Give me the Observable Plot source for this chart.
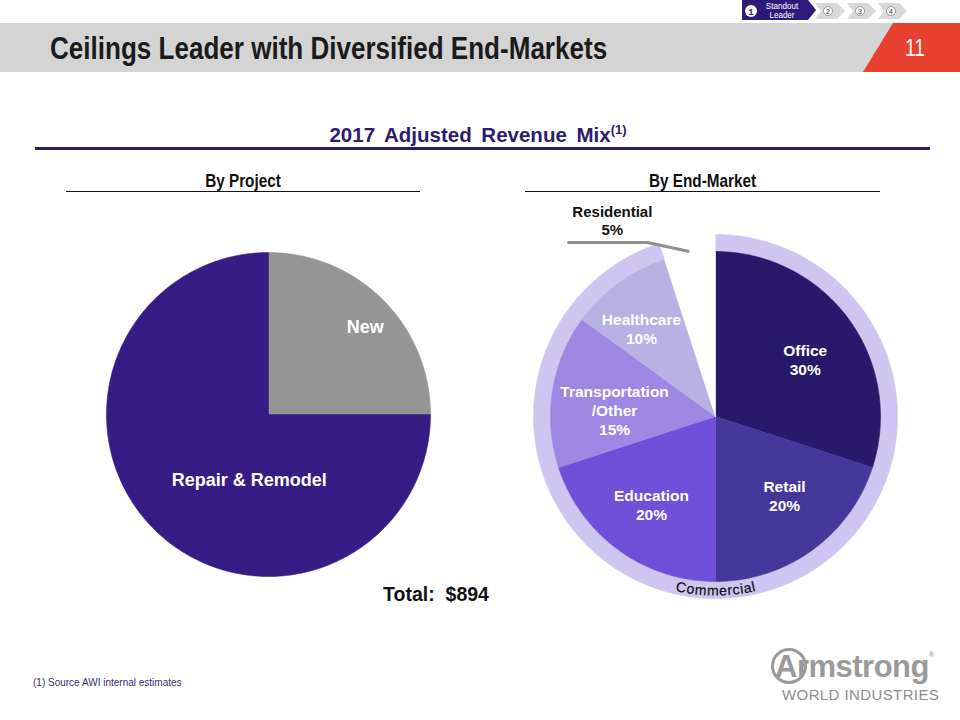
<!DOCTYPE html>
<html><head><meta charset="utf-8">
<script src="https://cdn.jsdelivr.net/npm/d3@7"></script>
<script src="https://cdn.jsdelivr.net/npm/@observablehq/plot@0.6"></script>
<style>
body{margin:0;background:#fff;font-family:"Liberation Sans",Arial,sans-serif;}
#slide{position:relative;width:960px;height:720px;overflow:hidden;background:#fff;}
#chart{position:absolute;left:0;top:0;z-index:1;}
.abs{position:absolute;white-space:nowrap;line-height:1;}
</style></head><body>
<div id="slide">
  <div class="abs" style="left:0;top:23px;width:960px;height:49px;background:#d4d4d4;"></div>
  <svg class="abs" style="left:0;top:0" width="960" height="80">
    <polygon points="893,23 960,23 960,72 863,72" fill="#e8412f"/>
    <polygon points="742,0 808,0 816,10 808,20 742,20" fill="#2e1a78"/>
    <circle cx="751" cy="11" r="6" fill="#fff"/>
    <text x="751" y="14.5" font-size="9" font-weight="bold" text-anchor="middle" fill="#2e1a78" font-family="Liberation Sans">1</text>
    <text x="782" y="8.5" font-size="9.5" text-anchor="middle" fill="#fff" font-family="Liberation Sans" transform="translate(782,0) scale(0.85,1) translate(-782,0)">Standout</text>
    <text x="782" y="18" font-size="9.5" text-anchor="middle" fill="#fff" font-family="Liberation Sans" transform="translate(782,0) scale(0.85,1) translate(-782,0)">Leader</text>
    <polygon points="815,3 837,3 845,11 837,19 815,19 821,11" fill="#d9d9d9"/>
    <polygon points="847,3 868,3 876,11 868,19 847,19 853,11" fill="#d9d9d9"/>
    <polygon points="878,3 899,3 907,11 899,19 878,19 884,11" fill="#d9d9d9"/>
    <circle cx="828" cy="11" r="4.5" fill="#fff" stroke="#666" stroke-width="0.6"/>
    <circle cx="860" cy="11" r="4.5" fill="#fff" stroke="#666" stroke-width="0.6"/>
    <circle cx="891" cy="11" r="4.5" fill="#fff" stroke="#666" stroke-width="0.6"/>
    <text x="828" y="13.5" font-size="7" text-anchor="middle" fill="#333" font-family="Liberation Sans">2</text>
    <text x="860" y="13.5" font-size="7" text-anchor="middle" fill="#333" font-family="Liberation Sans">3</text>
    <text x="891" y="13.5" font-size="7" text-anchor="middle" fill="#333" font-family="Liberation Sans">4</text>
  </svg>
  <div id="title" class="abs" style="left:50px;top:33px;font-size:31px;font-weight:bold;color:#1b1b1b;transform:scaleX(0.84);transform-origin:0 0;"></div>
  <div id="pageno" class="abs" style="left:895px;top:36px;width:40px;text-align:center;font-size:24px;color:#fff;transform:scaleX(0.8);"></div>
  <div id="subtitle" class="abs" style="left:0;top:123px;width:956px;text-align:center;font-size:20.5px;font-weight:bold;color:#2d1c6c;word-spacing:4px;"></div>
  <div class="abs" style="left:35px;top:147px;width:895px;height:3px;background:#2e1d6e;"></div>
  <div id="lefthead" class="abs" style="left:66px;top:172px;width:354px;text-align:center;font-size:18px;font-weight:bold;color:#111;transform:scaleX(0.85);"></div>
  <div class="abs" style="left:66px;top:191px;width:354px;height:1px;background:#111;"></div>
  <div id="righthead" class="abs" style="left:525px;top:172px;width:355px;text-align:center;font-size:18px;font-weight:bold;color:#111;transform:scaleX(0.85);"></div>
  <div class="abs" style="left:525px;top:191px;width:355px;height:1px;background:#111;"></div>
  <div id="total" class="abs" style="left:336px;top:585px;width:200px;text-align:center;font-size:19.5px;font-weight:bold;color:#111;white-space:pre;"></div>
  <div id="footnote" class="abs" style="left:33px;top:678px;font-size:10px;color:#3b2f6b;"></div>
  <div class="abs" style="left:771px;top:648px;width:36px;height:36px;border:3px solid #9a9a9a;border-radius:50%;box-sizing:border-box;"></div>
  <div class="abs" style="left:775px;top:651px;font-size:31px;font-weight:bold;color:#9a9a9a;letter-spacing:-0.5px;">Armstrong<span style="font-size:7px;vertical-align:top;">®</span></div>
  <div class="abs" style="left:782px;top:687px;font-size:15px;color:#8c8c8c;letter-spacing:0.4px;">WORLD INDUSTRIES</div>
  <div id="chart"></div>
</div>
<script>
// ---- data ----
const slideTitle = "Ceilings Leader with Diversified End-Markets";
const pageNumber = "11";
const chartTitle = "2017 Adjusted Revenue Mix";
const chartNote = "(1)";
const leftHeading = "By Project";
const rightHeading = "By End-Market";
const footnote = "(1) Source AWI internal estimates";
const totalRevenue = 894;

const projectCategories = ["New", "Repair & Remodel"];
const projectShares = [25, 75];
const projectColors = ["#959595", "#361c84"];

const marketCategories = ["Office", "Retail", "Education", "Transportation\n/Other", "Healthcare", "Residential"];
const marketShares = [30, 20, 20, 15, 10, 5];
const marketColors = ["#28196a", "#46389b", "#7050d8", "#9d87e2", "#b9b1e4", "#ffffff"];
const ringLabel = "Commercial";
const ringColor = "#cec6f0";

// ---- html texts ----
document.getElementById("title").textContent = slideTitle;
document.getElementById("pageno").textContent = pageNumber;
document.getElementById("subtitle").innerHTML = chartTitle + "<sup style='font-size:13px;vertical-align:8px;word-spacing:0'>" + chartNote + "</sup>";
document.getElementById("lefthead").textContent = leftHeading;
document.getElementById("righthead").textContent = rightHeading;
document.getElementById("total").textContent = "Total:  $" + totalRevenue;
document.getElementById("footnote").textContent = footnote;

// ---- layout ----
const L = {cx: 268, cy: 414, r: 162};
const R = {cx: 715, cy: 416, r: 165, ring: 182};
const deg = Math.PI / 180;
// small label nudges (pixels), as in the original slide
const projectLabelNudge = [[4, 4], [0, -3]];
const marketLabelNudge = [[3, 6], [6, -8], [-1, 1], [5, 10], [-11, -1]];

function arcPoints(cx, cy, r, a0, a1) {
  const n = Math.max(2, Math.ceil(Math.abs(a1 - a0) / deg));
  const pts = [];
  for (let i = 0; i <= n; i++) {
    const t = a0 + (a1 - a0) * i / n;
    pts.push([cx + r * Math.sin(t), cy - r * Math.cos(t)]);
  }
  return pts;
}
const wedge = (c, r, a0, a1) => [[c.cx, c.cy], ...arcPoints(c.cx, c.cy, r, a0, a1), [c.cx, c.cy]];
const band = (c, r0, r1, a0, a1) => [...arcPoints(c.cx, c.cy, r1, a0, a1), ...arcPoints(c.cx, c.cy, r0, a1, a0)];
const polar = (c, r, a) => [c.cx + r * Math.sin(a), c.cy - r * Math.cos(a)];

const pie = d3.pie().sort(null).value(d => d);
const leftArcs = pie(projectShares);
const rightArcs = pie(marketShares);

const polys = [];
function addPoly(key, color, pts) { pts.forEach(([x, y]) => polys.push({key, color, x, y})); }

// commercial ring spans all non-residential slices
const commercialEnd = rightArcs[marketCategories.length - 2].endAngle;
addPoly("ring", ringColor, band(R, R.r, R.ring, rightArcs[0].startAngle, commercialEnd));
leftArcs.forEach((a, i) => addPoly("L" + i, projectColors[i], wedge(L, L.r, a.startAngle, a.endAngle)));
rightArcs.forEach((a, i) => addPoly("R" + i, marketColors[i], wedge(R, R.r, a.startAngle, a.endAngle)));

// labels
const labels = [];
leftArcs.forEach((a, i) => {
  const mid = (a.startAngle + a.endAngle) / 2;
  const [x, y] = i === 0 ? polar(L, L.r * 0.81, mid) : polar(L, L.r * 0.43, 196 * deg);
  labels.push({text: projectCategories[i], x: x + projectLabelNudge[i][0], y: y + projectLabelNudge[i][1], size: 18});
});
rightArcs.forEach((a, i) => {
  if (i === marketCategories.length - 1) return;
  const mid = (a.startAngle + a.endAngle) / 2;
  const [x, y] = polar(R, R.r * 0.65, mid);
  labels.push({text: marketCategories[i] + "\n" + marketShares[i] + "%", x: x + marketLabelNudge[i][0], y: y + marketLabelNudge[i][1], size: 15.5});
});

// residential callout
const res = rightArcs[marketCategories.length - 1];
const resMid = (res.startAngle + res.endAngle) / 2;
const p0 = polar(R, R.r + 2, resMid);
const p1 = [p0[0] - 42, p0[1] - 9];
const p2 = [p1[0] - 80, p1[1]];
const leader = [p0, p1, p2].map(([x, y]) => ({x, y}));
const resLabel = [{text: marketCategories[marketCategories.length - 1] + "\n" + marketShares[marketShares.length - 1] + "%", x: (p1[0] + p2[0]) / 2 + 5, y: p1[1] - 8}];

// curved "Commercial"
const ctx = document.createElement("canvas").getContext("2d");
const ringFont = 14;
ctx.font = ringFont + "px 'Liberation Sans'";
const chars = ringLabel.split("");
const widths = chars.map(ch => ctx.measureText(ch).width + 0.5);
const totalW = d3.sum(widths);
const rText = (R.r + R.ring) / 2 + 1;
let acc = -totalW / 2;
const letters = chars.map((ch, i) => {
  const s = acc + widths[i] / 2;
  acc += widths[i];
  const th = Math.PI - s / rText;
  const [x, y] = polar(R, rText, th);
  return {ch, x, y, rot: (th - Math.PI) / deg};
});

const font = "Liberation Sans, Arial, sans-serif";
const chart = Plot.plot({
  width: 960, height: 720,
  margin: 0,
  x: {domain: [0, 960], range: [0, 960], axis: null},
  y: {domain: [0, 720], range: [0, 720], axis: null},
  color: {type: "identity"},
  style: {fontFamily: font, background: "transparent"},
  marks: [
    Plot.line(polys, {x: "x", y: "y", z: "key", fill: "color", stroke: "color", strokeWidth: 0.6, curve: "linear"}),
    Plot.line(leader, {x: "x", y: "y", stroke: "#8f8f8f", strokeWidth: 3, strokeLinecap: "butt", strokeLinejoin: "miter"}),
    Plot.text(labels, {x: "x", y: "y", text: "text", fill: "#fff", fontWeight: "bold", fontSize: d => d.size, lineHeight: 1.23, textAnchor: "middle", lineAnchor: "middle"}),
    Plot.text(resLabel, {x: "x", y: "y", text: "text", fill: "#111", fontWeight: "bold", fontSize: 15, lineHeight: 1.15, textAnchor: "middle", lineAnchor: "bottom"}),
    Plot.text(letters, {x: "x", y: "y", text: "ch", rotate: "rot", fill: "#111", fontSize: ringFont, fontWeight: 500, stroke: "#111", strokeWidth: 0.25, textAnchor: "middle", lineAnchor: "middle"})
  ]
});
document.getElementById("chart").appendChild(chart);
</script>
</body></html>
